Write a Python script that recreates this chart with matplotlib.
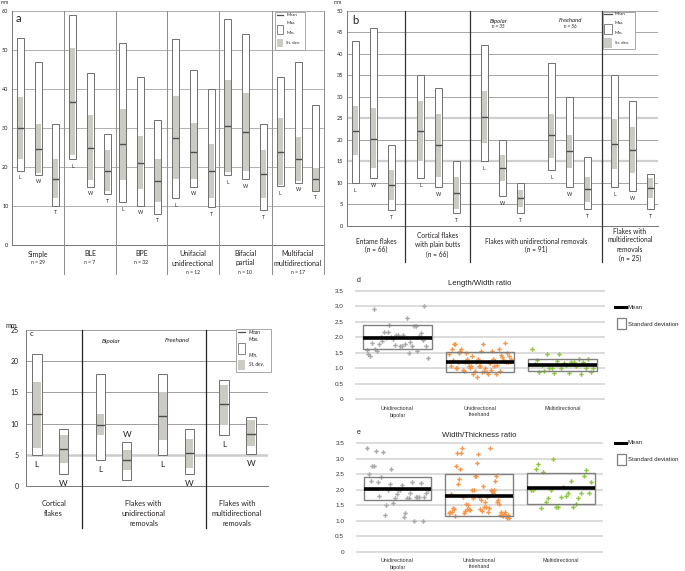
import matplotlib
matplotlib.use('Agg')
import matplotlib.pyplot as plt
from matplotlib.patches import Rectangle
from matplotlib.lines import Line2D
import numpy as np

# ---------------- DATA ----------------
# Panel a (mm): L, W, T for each core type
a_groups = ['Simple', 'BLE', 'BPE', 'Unifacial\nunidirectional', 'Bifacial\npartial', 'Multifacial\nmultidirectional']
a_n = ['n = 29', 'n = 7', 'n = 32', 'n = 12', 'n = 10', 'n = 17']
a_dims = ['L', 'W', 'T']
a_max = [[53, 47, 31], [59, 44, 28.4], [51.7, 43, 32], [52.8, 45, 39.9], [57.9, 54, 30.9], [43, 46.9, 35.8]]
a_min = [[19, 18, 10], [22, 15, 13], [10.9, 10, 8], [12, 15, 9.7], [17.9, 16.9, 8.9], [15.1, 15.9, 13.9]]
a_sd_hi = [[37.9, 30.9, 22], [50.5, 33.3, 24.3], [35, 27.9, 22], [38.1, 31.2, 25.9], [42.3, 39, 24.4], [32.6, 27.8, 19.8]]
a_sd_lo = [[22, 18.4, 12.1], [23, 16.6, 13.9], [16.7, 14.3, 11], [16.8, 16.9, 12.1], [18.6, 18.9, 12.1], [15.4, 16.3, 13.9]]
a_mean = [[30, 24.5, 17], [36.7, 24.9, 19.1], [25.8, 21, 16.5], [27.5, 23.9, 19.1], [30.4, 28.9, 18.2], [23.9, 22.1, 16.9]]
a_yticks = [0, 10, 20, 30, 40, 50, 60]

# Panel b (mm): Entame, Cortical, Bipolar, Freehand, Multidirectional
b_groups = [['Entame flakes', '(n = 66)'],
            ['Cortical flakes', 'with plain butts', '(n = 66)'],
            ['Flakes with unidirectional removals', '(n = 91)'],
            ['Flakes with', 'multidirectional', 'removals', '(n = 25)']]
b_sub = [('Bipolar', 'n = 35'), ('Freehand', 'n = 56')]
b_dims = ['L', 'W', 'T']
b_max = [[43, 46, 18.9], [35, 32, 15], [42, 20, 10], [38, 30, 16], [35, 29, 12]]
b_min = [[10, 11, 3.6], [11, 9, 3], [15, 7, 3], [13, 9, 4], [9, 8, 4]]
b_sd_hi = [[27.9, 27.3, 12.9], [29, 26, 11.3], [31.4, 16.5, 8.3], [26, 21.1, 11.3], [24.8, 23.1, 11]]
b_sd_lo = [[16.5, 13.4, 5.9], [15, 11.4, 4], [19.2, 10.5, 4.4], [15.8, 13.5, 5.6], [13.2, 12.3, 6.4]]
b_mean = [[22.1, 20.3, 9.4], [22, 18.7, 7.7], [25.3, 13.5, 6.4], [21.1, 17.3, 8.5], [19, 17.7, 8.8]]
b_yticks = [0, 5, 10, 15, 20, 25, 30, 35, 40, 45, 50]

# Panel c (mm): Cortical, Bipolar, Freehand, Multidirectional
c_groups = [['Cortical', 'flakes'], ['Flakes with', 'unidirectional', 'removals'],
            ['Flakes with', 'multidirectional', 'removals']]
c_sub = ['Bipolar', 'Freehand']
c_dims = ['L', 'W']
c_max = [[21.2, 9.1], [18, 7], [18, 9.1], [17, 11]]
c_min = [[5, 2], [4.1, 1], [5, 2], [8.1, 5.1]]
c_sd_hi = [[16.7, 8.2], [11.5, 5.7], [15, 7.6], [16.2, 10.6]]
c_sd_lo = [[6.1, 3.7], [8.1, 2.6], [7.4, 2.9], [9.8, 6.4]]
c_mean = [[11.5, 5.9], [9.8, 4.1], [11.2, 5.3], [13.1, 8.4]]
c_yticks = [0, 5, 10, 15, 20, 25]

# Panels d & e: ratios
r_cats = ['Unidirectional\nbipolar', 'Unidirectional\nfreehand', 'Multidirectional']
r_yticks = [0, 0.5, 1.0, 1.5, 2.0, 2.5, 3.0, 3.5]
r_yticklabels = ['0', '0.5', '1.0', '1.5', '2.0', '2.5', '3.0', '3.5']

lw_bip = [1.58, 1.45, 1.38, 1.82, 2.90, 1.62, 1.55, 1.78, 2.0, 1.88, 2.15, 1.97, 2.17, 2.38, 2.0, 1.93, 1.73, 2.08,
          2.08, 1.72, 1.72, 2.07, 1.78, 2.6, 1.5, 1.85, 1.72, 2.35, 2.35, 1.55, 2.05, 2.12, 1.9, 3.0, 1.72, 1.32]
lw_free = [1.45, 1.07, 1.62, 1.25, 1.77, 1.77, 1.0, 1.0, 1.18, 1.47, 1.55, 1.62, 0.93, 0.9, 1.2, 1.47, 1.28, 1.18,
           1.05, 1.0, 1.05, 1.38, 0.82, 0.92, 1.18, 0.7, 1.3, 1.05, 1.05, 1.55, 0.88, 1.77, 0.92, 1.0, 0.88, 0.8,
           1.2, 1.15, 0.95, 1.55, 1.28, 1.07, 1.22, 0.82, 1.1, 1.62, 0.9, 1.42, 1.35, 1.25, 1.22, 1.8, 1.2, 1.47,
           1.2, 1.4, 1.3]
lw_multi = [1.6, 1.12, 1.25, 0.88, 1.1, 0.9, 1.45, 1.0, 1.0, 0.83, 1.22, 1.45, 1.0, 1.15, 1.1, 0.85, 1.2, 1.18,
            1.05, 1.3, 0.8, 1.18, 1.0, 1.28, 0.88, 1.0]
lw_box_hi = [2.39, 1.505, 1.28]
lw_box_lo = [1.60, 0.86, 0.89]
lw_mean = [1.98, 1.19, 1.09]

wt_bip = [3.33, 2.5, 2.28, 2.75, 2.75, 3.25, 2.25, 1.8, 2.4, 3.2, 1.18, 1.5, 2.0, 2.18, 2.67, 1.58, 1.72, 1.87,
          2.0, 2.0, 2.15, 1.13, 1.25, 1.75, 1.75, 1.88, 2.25, 1.0, 1.78, 1.78, 1.78, 2.22, 1.0, 1.78, 1.88, 1.98]
wt_free = [1.25, 1.3, 1.85, 1.3, 1.4, 1.38, 1.15, 2.75, 3.18, 2.18, 2.33, 2.67, 3.18, 3.33, 1.78, 1.25, 1.33, 1.55,
           1.38, 1.5, 1.38, 1.35, 2.0, 1.75, 2.0, 2.43, 2.43, 2.85, 3.15, 1.78, 1.37, 1.68, 1.32, 2.12, 1.45, 1.6,
           1.45, 1.78, 1.28, 1.42, 3.33, 2.0, 1.95, 1.88, 2.0, 2.28, 2.45, 1.62, 1.68, 1.55, 1.18, 1.28, 1.18,
           1.15, 1.22, 1.3, 1.15, 1.08, 1.18, 1.1]
wt_multi = [2.0, 2.0, 2.67, 2.83, 1.42, 2.57, 1.62, 1.75, 2.0, 3.0, 1.45, 1.45, 1.78, 2.1, 1.8, 1.9, 2.28, 1.45,
            1.55, 1.72, 1.9, 2.45, 2.63, 1.9, 2.25]
wt_box_hi = [2.42, 2.51, 2.53]
wt_box_lo = [1.66, 1.14, 1.53]
wt_mean = [2.01, 1.81, 2.06]

# ---------------- STYLE / LAYOUT ----------------
W, H = 685, 571
FONT = 'Lato'
FONT2 = 'Liberation Sans'
SDC = '#cbcac3'
EDGE = '#6f6f6f'
MEANC = '#4d4d4d'
TXT = '#231f20'

fig = plt.figure(figsize=(W / 100, H / 100), dpi=100)
fig.patch.set_facecolor('white')


def fx(x): return x / W
def fy(y): return 1 - y / H


def add_ax(x0, y0, x1, y1):
    return fig.add_axes([fx(x0), fy(y1), (x1 - x0) / W, (y1 - y0) / H])


def ftext(x, y, s, **kw):
    kw.setdefault('ha', 'center')
    kw.setdefault('va', 'center')
    kw.setdefault('color', TXT)
    kw.setdefault('family', FONT)
    fig.text(fx(x), fy(y), s, **kw)


def fline(x0, y0, x1, y1, **kw):
    fig.add_artist(Line2D([fx(x0), fx(x1)], [fy(y0), fy(y1)], transform=fig.transFigure, **kw))


def frect(x0, y0, x1, y1, **kw):
    fig.add_artist(Rectangle((fx(x0), fy(y1)), (x1 - x0) / W, (y1 - y0) / H, transform=fig.transFigure, **kw))


def range_bar(ax, xc, w, lo, hi, sdlo, sdhi, mean, label, lab_off, fs, lab_above=False):
    ax.add_patch(Rectangle((xc - w / 2, lo), w, hi - lo, fc='white', ec='none', zorder=3))
    ax.add_patch(Rectangle((xc - w / 2 + 0.6, sdlo), w - 1.2, sdhi - sdlo, fc=SDC, ec='none', zorder=4))
    ax.plot([xc - w / 2, xc + w / 2], [mean, mean], color=MEANC, lw=1.0, zorder=5, solid_capstyle='butt')
    ax.add_patch(Rectangle((xc - w / 2, lo), w, hi - lo, fc='none', ec=EDGE, lw=0.7, zorder=6))
    if lab_above:
        ax.annotate(label, (xc, hi), xytext=(0, lab_off), textcoords='offset pixels', ha='center', va='center',
                    fontsize=fs, family=FONT, color=TXT, annotation_clip=False)
    else:
        ax.annotate(label, (xc, lo), xytext=(0, -lab_off), textcoords='offset pixels', ha='center', va='center',
                    fontsize=fs, family=FONT, color=TXT, annotation_clip=False)


def mm_axes(ax, x0, x1, ymax, yticks, fs, pad):
    ax.set_xlim(x0, x1)
    ax.set_ylim(0, ymax)
    ax.set_xticks([])
    ax.set_yticks(yticks)
    ax.set_yticklabels([str(t) for t in yticks], fontsize=fs, family=FONT, color=TXT)
    ax.tick_params(axis='y', length=0, pad=pad)
    for s in ['top', 'right']:
        ax.spines[s].set_visible(False)
    for s in ['left', 'bottom']:
        ax.spines[s].set_color('#777777')
        ax.spines[s].set_linewidth(0.7)
    ax.patch.set_alpha(0)


def mini_legend(x0, y0, x1, y1, rows, fs, italic=False):
    frect(x0, y0, x1, y1, fc='white', ec='#9a9a9a', lw=0.6, zorder=10)
    (ml, my), (bx0, by0, bx1, by1), (gx0, gy0, gx1, gy1), tx, ty = rows
    fline(ml[0], my, ml[1], my, color=MEANC, lw=0.9, zorder=11)
    frect(bx0, by0, bx1, by1, fc='white', ec=EDGE, lw=0.6, zorder=11)
    frect(gx0, gy0, gx1, gy1, fc=SDC, ec='none', zorder=11)
    st = 'italic' if italic else 'normal'
    for s, yy in zip(['Mean', 'Max.', 'Min.', 'St. dev.'], ty):
        ftext(tx, yy, s, ha='left', fontsize=fs, style=st, zorder=12)


# ================= PANEL a =================
axa = add_ax(12.5, 11, 324, 245)
mm_axes(axa, 12.5, 324, 60, a_yticks, 4, 3)
for v in a_yticks[1:]:
    axa.axhline(v, color='#a3a3a3', lw=0.6, zorder=1)
a_sep = [64, 116, 166.7, 219, 271.7, 324]
a_bounds = [12.5] + a_sep
a_centers = [[20, 38, 55], [72.5, 90.5, 107.5], [122.8, 140.5, 157.8],
             [175.8, 193.8, 211.2], [227.8, 245.8, 263.2], [280.2, 298.2, 315.8]]
for x in a_sep:
    fline(x, 11, x, 274, color='#8c8c8c', lw=0.7)
for g in range(6):
    for k in range(3):
        range_bar(axa, a_centers[g][k], 7, a_min[g][k], a_max[g][k], a_sd_lo[g][k], a_sd_hi[g][k],
                  a_mean[g][k], a_dims[k], 7, 3.6)
    cx = (a_bounds[g] + a_bounds[g + 1]) / 2
    lines = a_groups[g].split('\n')
    for i, ln in enumerate(lines):
        ftext(cx, 254 + 9 * i, ln, fontsize=5)
    ftext(cx, 254 + 9 * len(lines), a_n[g], fontsize=3.6)
ftext(5, 3, 'mm', fontsize=3.6)
ftext(18, 18, 'a', fontsize=8)
mini_legend(275, 12, 305, 49.5,
            [((276.7, 283.3), 14.7), (276.7, 25, 283.3, 34.3), (276.7, 39, 283.3, 47.3), 286.5,
             [14.7, 22.5, 33.5, 43.3]], 3.2)

# ================= PANEL b =================
axb = add_ax(347, 11, 658, 225.7)
mm_axes(axb, 347, 658, 50, b_yticks, 4, 3)
for v in b_yticks[1:]:
    if v in (15, 25):
        axb.axhline(v, color='#cfcfcf', lw=1.6, zorder=1)
    else:
        axb.axhline(v, color='#969696', lw=0.6, zorder=1)
b_sep = [405, 470, 601.7]
b_bounds = [347] + b_sep + [658]
b_centers = [[355, 373.5, 391], [420.5, 438.5, 456.5], [484, 502.5, 520], [551.5, 569.5, 587.5],
             [614.5, 632.5, 650.5]]
for x in b_sep:
    fline(x, 11, x, 262, color='#333333', lw=0.9)
for g in range(5):
    for k in range(3):
        range_bar(axb, b_centers[g][k], 7, b_min[g][k], b_max[g][k], b_sd_lo[g][k], b_sd_hi[g][k],
                  b_mean[g][k], b_dims[k], 7.5, 3.6)
b_label_y = [[241, 249], [236, 245, 254], [241, 249], [231, 240, 249, 258]]
for g in range(4):
    cx = (b_bounds[g] + b_bounds[g + 1]) / 2
    for ln, yy in zip(b_groups[g], b_label_y[g]):
        ftext(cx, yy, ln, fontsize=4.8)
for (nm, nn), xx in zip(b_sub, [498.3, 570]):
    ftext(xx, 21, nm, fontsize=4.3, style='italic')
    ftext(xx, 27, nn, fontsize=3.3, style='italic')
ftext(338, 2.5, 'mm', fontsize=3.6)
ftext(355, 20, 'b', fontsize=8)
mini_legend(602.7, 11.7, 635, 49.3,
            [((604.3, 611.7), 14.3), (604.3, 24.3, 611.7, 34.3), (604.3, 38.3, 611.7, 47.7), 615,
             [14.3, 22.5, 33.5, 42.7]], 3.2)

# ================= PANEL c =================
axc = add_ax(25.7, 330, 268, 486)
mm_axes(axc, 25.7, 268, 25, c_yticks, 5, 5)
for v in c_yticks[1:]:
    if v == 5:
        axc.axhline(v, color='#cccccc', lw=1.8, zorder=1)
    else:
        axc.axhline(v, color='#8f8f8f', lw=0.6, zorder=1)
c_sep = [81.7, 205.7]
c_bounds = [25.7] + c_sep + [268]
c_centers = [[36.8, 63.5], [100.3, 126.7], [162.7, 189.3], [224, 250.8]]
for x in c_sep:
    fline(x, 330, x, 528, color='#222222', lw=0.9)
for g in range(4):
    for k in range(2):
        above = (g == 1 and k == 1)
        range_bar(axc, c_centers[g][k], 9.5, c_min[g][k], c_max[g][k], c_sd_lo[g][k], c_sd_hi[g][k],
                  c_mean[g][k], c_dims[k], 9.5 if not above else 7.5, 6, lab_above=above)
for g in range(3):
    cx = (c_bounds[g] + c_bounds[g + 1]) / 2
    for i, ln in enumerate(c_groups[g]):
        ftext(cx, 503 + 10 * i, ln, fontsize=5.3)
for nm, xx in zip(c_sub, [111, 177]):
    ftext(xx, 341, nm, fontsize=4.6, style='italic')
ftext(11, 325, 'mm', fontsize=5)
ftext(31, 333, 'c', fontsize=5.5)
mini_legend(235.7, 329.3, 271, 371.7,
            [((237.7, 245), 332.3), (237.7, 343.3, 245, 354), (237.7, 360, 245, 370), 249,
             [332.3, 339.3, 355.7, 365]], 3.6, italic=True)


# ================= PANELS d, e =================
def ratio_panel(box, vals, hi, lo, means, title, letter, cat_y, leg_y):
    x0, y0, x1, y1 = box
    ax = add_ax(x0, y0, x1, y1)
    ax.set_xlim(0, 3)
    ax.set_ylim(0, 3.5)
    for v in r_yticks:
        ax.axhline(v, color='#d9d9d9', lw=1.3, zorder=1, clip_on=False)
    for s in ax.spines.values():
        s.set_visible(False)
    ax.set_xticks([])
    ax.set_yticks(r_yticks)
    ax.set_yticklabels(r_yticklabels, fontsize=4.6, family=FONT2, color='#333333')
    ax.tick_params(axis='y', length=0, pad=9)
    ax.patch.set_alpha(0)
    colors = ['#a8a8a8', '#f7964a', '#8dc63f']
    for i in range(3):
        c = i + 0.5
        n = len(vals[i])
        xs = c + np.linspace(-0.37, 0.37, n)
        ax.plot(xs, vals[i], 'P', ms=3.2, mew=0, color=colors[i], zorder=2, clip_on=False)
        ax.add_patch(Rectangle((c - 0.415, lo[i]), 0.83, hi[i] - lo[i], fc='none', ec='#808080', lw=1.0,
                               zorder=3))
        ax.plot([c - 0.415, c + 0.415], [means[i], means[i]], color='black', lw=2.6, zorder=4,
                solid_capstyle='butt')
        lines = r_cats[i].split('\n')
        px = x0 + (x1 - x0) * c / 3
        for j, ln in enumerate(lines):
            ftext(px, cat_y + 7 * j, ln, fontsize=3.9, family=FONT2, color='#333333')
    ftext((x0 + x1) / 2, y0 - 7.5, title, fontsize=5.6, family=FONT2, color='#222222')
    ftext(359, y0 - 10.5, letter, fontsize=5, family=FONT2, color='#222222')
    fline(615, leg_y, 625.5, leg_y, color='black', lw=2.2)
    ftext(628, leg_y, 'Mean', ha='left', fontsize=4.3, family=FONT2, color='#222222')
    frect(617, leg_y + 11, 626, leg_y + 22, fc='white', ec='#808080', lw=0.9)
    ftext(628, leg_y + 17, 'Standard deviation', ha='left', fontsize=4.3, family=FONT2, color='#222222')
    return ax


ratio_panel((356, 290.6, 604, 399), [lw_bip, lw_free, lw_multi], lw_box_hi, lw_box_lo, lw_mean,
            'Length/Width ratio', 'd', 408, 307.3)
ratio_panel((356.7, 443, 601.7, 552), [wt_bip, wt_free, wt_multi], wt_box_hi, wt_box_lo, wt_mean,
            'Width/Thickness ratio', 'e', 560, 442.7)

fig.savefig('out.png', dpi=100, facecolor='white')
